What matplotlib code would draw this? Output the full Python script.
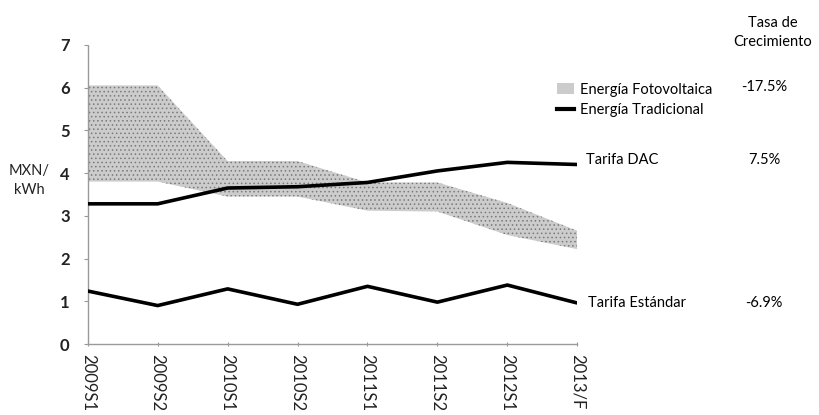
import matplotlib
matplotlib.use("Agg")
import matplotlib.pyplot as plt
from matplotlib.patches import Patch
from matplotlib.lines import Line2D

plt.rcParams['font.family'] = ['Lato', 'DejaVu Sans']
plt.rcParams['hatch.color'] = '#7a7a7a'
plt.rcParams['hatch.linewidth'] = 0.6

periods = ["2009S1", "2009S2", "2010S1", "2010S2", "2011S1", "2011S2", "2012S1", "2013/F"]
pv_high = [6.05, 6.05, 4.28, 4.28, 3.78, 3.78, 3.30, 2.65]
pv_low = [3.80, 3.80, 3.45, 3.45, 3.12, 3.10, 2.55, 2.22]
tarifa_dac = [3.28, 3.28, 3.65, 3.68, 3.78, 4.05, 4.25, 4.20]
tarifa_estandar = [1.24, 0.90, 1.29, 0.93, 1.35, 0.98, 1.38, 0.96]
growth = {"Energía Fotovoltaica": "-17.5%", "Tarifa DAC": "7.5%", "Tarifa Estándar": "-6.9%"}

fig = plt.figure(figsize=(8.2, 4.15), dpi=100)
ax = fig.add_axes([0.107, 0.171, 0.597, 0.721])

x = list(range(len(periods)))
ax.fill_between(x, pv_low, pv_high, facecolor='#cccccc', edgecolor='none',
                hatch='....', linewidth=0, zorder=1)
ax.plot(x, tarifa_dac, color='black', lw=2.6, solid_capstyle='butt', zorder=3)
ax.plot(x, tarifa_estandar, color='black', lw=2.6, solid_capstyle='butt', zorder=3)

ax.set_xlim(0, len(periods) - 1)
ax.set_ylim(0, 7)
ax.set_yticks(range(0, 8))
ax.set_xticks(x)
ax.set_xticklabels(periods, rotation=270, va='top', ha='center',
                   fontsize=12, color='#222222')
ax.tick_params(axis='y', labelsize=12, length=3, color='#999999', pad=10)
for lab in ax.get_yticklabels():
    lab.set_fontweight('bold')
    lab.set_color('#222222')
ax.tick_params(axis='x', length=3, color='#999999', pad=6, direction='inout')

for side in ('top', 'right'):
    ax.spines[side].set_visible(False)
for side in ('left', 'bottom'):
    ax.spines[side].set_color('#9a9a9a')
    ax.spines[side].set_linestyle((0, (1, 1)))
    ax.spines[side].set_linewidth(1.0)

fig.text(0.036, 0.565, "MXN/\nkWh", ha='center', va='center', fontsize=10.5,
         linespacing=1.5, color='#222222')

# legend
handles = [Patch(facecolor='#cccccc', edgecolor='none', hatch='....'),
           Line2D([0], [0], color='black', lw=3)]
fig.legend(handles, ["Energía Fotovoltaica", "Energía Tradicional"],
           loc='upper left', bbox_to_anchor=(0.672, 0.815), frameon=False,
           fontsize=10.5, handlelength=1.2, handletextpad=0.4,
           labelspacing=0.45, borderaxespad=0)

# end-of-line labels
fig.text(0.715, 0.614, "Tarifa DAC", ha='left', va='center', fontsize=10.5)
fig.text(0.717, 0.270, "Tarifa Estándar", ha='left', va='center', fontsize=10.5)

# growth rates
fig.text(0.942, 0.922, "Tasa de\nCrecimiento", ha='center', va='center',
         fontsize=10.5, linespacing=1.5)
fig.text(0.932, 0.790, growth["Energía Fotovoltaica"], ha='center', va='center',
         fontsize=10.5)
fig.text(0.932, 0.614, growth["Tarifa DAC"], ha='center', va='center',
         fontsize=10.5)
fig.text(0.932, 0.270, growth["Tarifa Estándar"], ha='center', va='center',
         fontsize=10.5)

fig.savefig("out.png", dpi=100, facecolor='white')
